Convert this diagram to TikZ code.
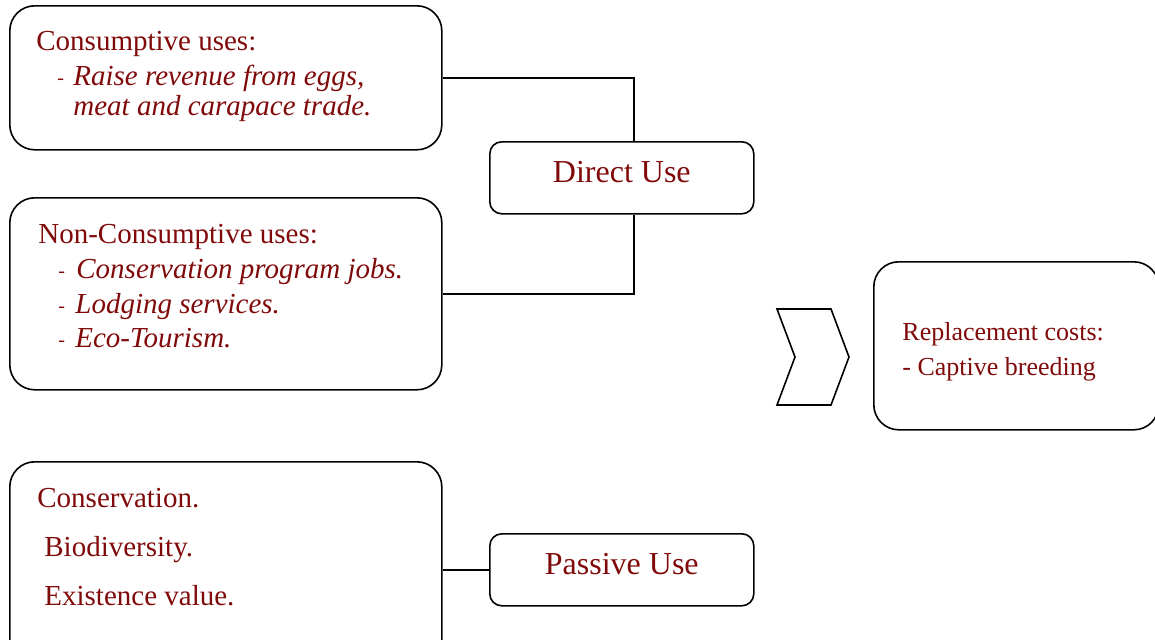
\documentclass[tikz,border=0pt]{standalone}
\usepackage{fontspec}
\setmainfont{Liberation Serif}
\definecolor{txtred}{RGB}{128,10,10}
\tikzset{
  bigbox/.style={draw,line width=0.8pt,rounded corners=12.5pt,anchor=north west,minimum width=216pt},
  usebox/.style={draw,line width=0.8pt,rounded corners=6pt,anchor=north west,minimum width=132pt,minimum height=36pt,
    text=txtred,font=\fontsize{16}{19}\selectfont,text height=0.7em,text depth=0.25em},
  txt/.style={anchor=base west,inner sep=0pt,text=txtred,font=\fontsize{14.5}{17}\selectfont},
  dashtxt/.style={txt,font=\fontsize{10}{12}\selectfont},
  smalltxt/.style={txt,font=\fontsize{13}{15}\selectfont},
}
\begin{document}
\begin{tikzpicture}[x=0.5pt,y=-0.5pt]
        \useasboundingbox(0,0)rectangle(1155,639);
        % boxes
        \node[bigbox,minimum height=72pt](cons)at(9,5){};
        \node[bigbox,minimum height=96pt](noncons)at(9,197){};
        \node[bigbox,minimum height=107pt](passbox)at(9,461){};
        \node[usebox](direct)at(489,141){Direct Use};
        \node[usebox](passive)at(489,533){Passive Use};
        \node[bigbox,minimum width=142.5pt,minimum height=84pt](repl)at(873,261){};
        % connectors
        \draw[line width=0.8pt](cons.east)-|([xshift=6pt]direct.north);
        \draw[line width=0.8pt]([xshift=6pt]direct.south)|-(noncons.east);
        \draw[line width=0.8pt](passive.west)--(passive.west-|passbox.east);
        % chevron
        \draw[line width=0.8pt](777,309)--(831,309)--(849,357)--(831,405)--(777,405)--(795,357)--cycle;
        % texts
        \node[txt](c1)at(36,50){Consumptive uses:};
        \node[dashtxt](c2)at(57,84){-};
        \node[txt](c3)at(73,85){\itshape Raise revenue from eggs,};
        \node[txt](c4)at(73,115){\itshape meat and carapace trade.};
        \node[txt](n1)at(38,243){Non-Consumptive uses:};
        \node[dashtxt](n2)at(58,277){-};
        \node[txt](n3)at(76,278){\itshape Conservation program jobs.};
        \node[dashtxt](n4)at(58,312){-};
        \node[txt](n5)at(75,313){\itshape Lodging services.};
        \node[dashtxt](n6)at(58,346){-};
        \node[txt](n7)at(75,347){\itshape Eco-Tourism.};
        \node[txt](p1)at(37,507){Conservation.};
        \node[txt](p2)at(44,556){Biodiversity.};
        \node[txt](p3)at(44,605){Existence value.};
        \node[smalltxt](r1)at(902,340){Replacement costs:};
        \node[smalltxt](r2)at(902,375){- Captive breeding};
    \end{tikzpicture}
\end{document}
